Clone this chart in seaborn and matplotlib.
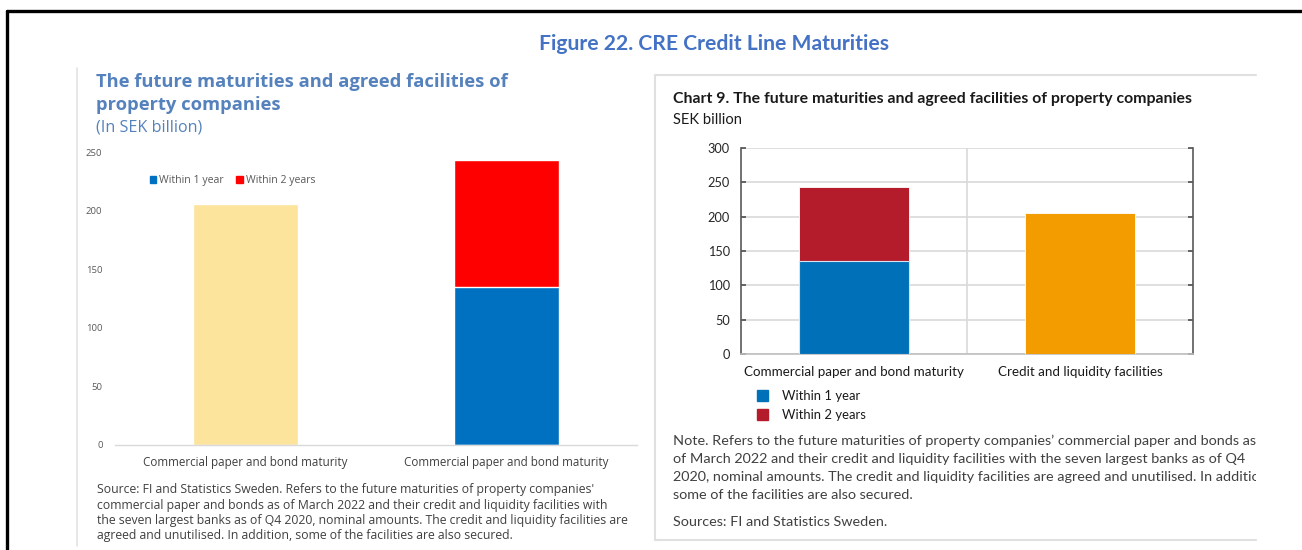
import matplotlib
matplotlib.use("Agg")
import matplotlib.pyplot as plt
from matplotlib.patches import Patch
from matplotlib.lines import Line2D
import seaborn as sns
import pandas as pd

# ---- data (SEK billion) ----
series_names = ["Within 1 year", "Within 2 years"]
within_1_year = 135
within_2_years_total = 243
facilities_total = 206

left_keys = ["facilities", "maturity"]
left_labels = ["Commercial paper and bond maturity", "Commercial paper and bond maturity"]
right_keys = ["maturity", "facilities"]
right_labels = ["Commercial paper and bond maturity", "Credit and liquidity facilities"]

left_yticks = [0, 50, 100, 150, 200, 250]
right_yticks = [0, 50, 100, 150, 200, 250, 300]

W, H = 1302, 550
sns.set_theme(style="white")
plt.rcParams["font.family"] = ["Lato", "DejaVu Sans"]
WIDE = ["Open Sans", "DejaVu Sans"]

fig = plt.figure(figsize=(W / 100, H / 100), dpi=100)
fig.patch.set_facecolor("white")


def fx(x):
    return x / W


def fy(y):
    return 1 - y / H


def rect(x0, y0, x1, y1):
    return [fx(x0), fy(y1), fx(x1) - fx(x0), fy(y0) - fy(y1)]


def fline(xs, ys, **kw):
    fig.add_artist(Line2D([fx(v) for v in xs], [fy(v) for v in ys], **kw))


# outer frame
fline([7, 7], [11, 552], color="black", lw=2.4)
fline([7, 1304], [11, 11], color="black", lw=2.4)

fig.text(fx(714), fy(44), "Figure 22. CRE Credit Line Maturities", ha="center", va="center",
         fontsize=15.2, fontweight="bold", color="#4472C4")

# ================= left panel =================
fline([77, 77], [68, 546], color="#E3E3E3", lw=1.2)
title_blue = "#5582BD"
fig.text(fx(96), fy(82), "The future maturities and agreed facilities of", ha="left", va="center",
         fontsize=13.2, fontweight="bold", color=title_blue, family=WIDE)
fig.text(fx(96), fy(105), "property companies", ha="left", va="center",
         fontsize=13.2, fontweight="bold", color=title_blue, family=WIDE)
fig.text(fx(96), fy(128), "(In SEK billion)", ha="left", va="center",
         fontsize=11.6, color=title_blue, family=WIDE)

axl = fig.add_axes(rect(115, 152, 637, 445))
yellow, blue_l, red_l = "#FCE49D", "#0070C0", "#FF0000"
df_l = pd.DataFrame({"key": left_keys, "value": [facilities_total, within_2_years_total]})
sns.barplot(data=df_l, x="key", y="value", hue="key", order=left_keys,
            palette=[yellow, red_l], width=0.4, legend=False, ax=axl, saturation=1)
df_l1 = pd.DataFrame({"key": ["maturity"], "value": [within_1_year]})
sns.barplot(data=df_l1, x="key", y="value", order=left_keys, color=blue_l,
            width=0.4, ax=axl, saturation=1)
axl.set_xlim(-0.5, 1.5)
axl.set_ylim(0, 250)
axl.set_yticks(left_yticks)
axl.set_yticklabels([str(v) for v in left_yticks], family=WIDE)
axl.set_xticks(range(len(left_labels)))
axl.set_xticklabels(left_labels, family=WIDE)
axl.set_xlabel("")
axl.set_ylabel("")
axl.patch.set_alpha(0)
for s in ["top", "right", "left"]:
    axl.spines[s].set_visible(False)
axl.spines["bottom"].set_color("#D9D9D9")
axl.spines["bottom"].set_linewidth(1.0)
axl.tick_params(axis="y", length=0, pad=9, labelsize=6.8, labelcolor="#595959")
axl.tick_params(axis="x", length=0, pad=8, labelsize=8.4, labelcolor="#404040")
axl.grid(False)

axl.legend(handles=[Patch(color=blue_l), Patch(color=red_l)], labels=series_names,
           loc="center left", bbox_to_anchor=(fx(140), fy(181)), bbox_transform=fig.transFigure,
           ncol=2, frameon=False, prop={"family": WIDE, "size": 7.6}, labelcolor="#595959",
           handlelength=0.6, handleheight=0.6, handletextpad=0.3, columnspacing=1.2)

source_lines = [
    "Source: FI and Statistics Sweden. Refers to the future maturities of property companies'",
    "commercial paper and bonds as of March 2022 and their credit and liquidity facilities with",
    "the seven largest banks as of Q4 2020, nominal amounts. The credit and liquidity facilities are",
    "agreed and unutilised. In addition, some of the facilities are also secured.",
]
for i, line in enumerate(source_lines):
    fig.text(fx(97), fy(490 + i * 15.3), line, ha="left", va="center",
             fontsize=8.8, color="#404040", family=WIDE)

# ================= right panel =================
panel = fig.add_axes(rect(655, 75, 1256, 540))
panel.set_xlim(0, 1)
panel.set_ylim(0, 1)
panel.axis("off")
fline([655, 1256], [75, 75], color="#E0E0E0", lw=1.5)
fline([655, 655], [75, 540], color="#E0E0E0", lw=1.5)
fline([655, 1256], [540, 540], color="#E0E0E0", lw=1.5)

fig.text(fx(673), fy(99), "Chart 9. The future maturities and agreed facilities of property companies",
         ha="left", va="center", fontsize=11.4, fontweight="bold", color="#1A1A1A")
fig.text(fx(673), fy(120), "SEK billion", ha="left", va="center", fontsize=10.6, color="#1A1A1A")

axr = fig.add_axes(rect(741, 148, 1193, 354))
blue_r, red_r, orange = "#0070B8", "#B41C2C", "#F39C00"
df_r = pd.DataFrame({"key": right_keys, "value": [within_2_years_total, facilities_total]})
sns.barplot(data=df_r, x="key", y="value", hue="key", order=right_keys,
            palette=[red_r, orange], width=0.49, legend=False, ax=axr, saturation=1,
            edgecolor="white", linewidth=0.6, zorder=3)
df_r1 = pd.DataFrame({"key": ["maturity"], "value": [within_1_year]})
sns.barplot(data=df_r1, x="key", y="value", order=right_keys, color=blue_r,
            width=0.49, ax=axr, saturation=1, edgecolor="#D6E4F0", linewidth=0.8, zorder=4)
axr.set_xlim(-0.5, 1.5)
axr.set_ylim(0, 300)
axr.set_yticks(right_yticks)
axr.set_yticklabels([str(v) for v in right_yticks])
axr.set_xticks(range(len(right_labels)))
axr.set_xticklabels(right_labels)
axr.set_xlabel("")
axr.set_ylabel("")
axr.grid(True, axis="y", color="#D9D9D9", lw=1.2, zorder=0)
axr.axvline(0.5, color="#D9D9D9", lw=1.2, zorder=0)
axr.spines["top"].set_visible(False)
for s in ["left", "right"]:
    axr.spines[s].set_color("#595959")
    axr.spines[s].set_linewidth(1.2)
axr.spines["bottom"].set_color("#BFBFBF")
axr.spines["bottom"].set_linewidth(1.2)
axr.tick_params(axis="y", left=True, right=True, direction="in", length=3.5, width=1.1,
                color="#404040", labelsize=9.2, labelcolor="#262626", pad=8)
axr.tick_params(axis="x", length=0, pad=9, labelsize=9.6, labelcolor="#1A1A1A")

fig.legend(handles=[Patch(color=blue_r), Patch(color=red_r)], labels=series_names,
           loc="upper left", bbox_to_anchor=(fx(745), fy(378)), frameon=False,
           fontsize=9.4, labelcolor="#1A1A1A", handlelength=0.85, handleheight=1.0,
           handletextpad=1.1, labelspacing=0.5)

note_lines = [
    "Note. Refers to the future maturities of property companies\u2019 commercial paper and bonds as",
    "of March 2022 and their credit and liquidity facilities with the seven largest banks as of Q4",
    "2020, nominal amounts. The credit and liquidity facilities are agreed and unutilised. In addition,",
    "some of the facilities are also secured.",
]
for i, line in enumerate(note_lines):
    t = fig.text(fx(673), fy(441 + i * 18), line, ha="left", va="center",
                 fontsize=10.4, color="#404040")
    t.set_clip_box(panel.bbox)
    t.set_clip_on(True)
fig.text(fx(673), fy(522), "Sources: FI and Statistics Sweden.", ha="left", va="center",
         fontsize=10.4, color="#404040")

fig.savefig("out.png", dpi=100, facecolor="white")
